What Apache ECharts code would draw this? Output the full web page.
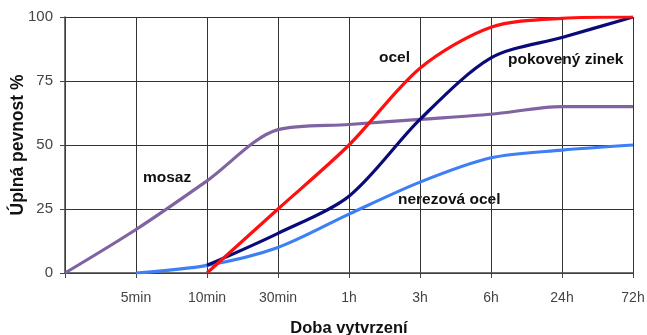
<!DOCTYPE html>
<html><head><meta charset="utf-8">
<script src="https://cdn.jsdelivr.net/npm/echarts@6/dist/echarts.min.js"></script>
<style>html,body{margin:0;padding:0;background:#fff}#c{width:647px;height:335px}</style>
</head><body><div id="c"></div>
<script>
const categories = ['', '5min', '10min', '30min', '1h', '3h', '6h', '24h', '72h'];
const yTicks = [0, 25, 50, 75, 100];
const mosaz = [0, 17, 36, 56, 58, 60, 62, 65, 65];
const ocel = [null, null, 0, 25, 50, 80, 96, 99.5, 100];
const zinek = [null, null, 3, 15.5, 30, 60, 84, 92, 100];
const nerez = [null, 0, 3, 10, 23, 35.5, 45, 48, 50];
const seriesNames = ['mosaz', 'ocel', 'pokovený zinek', 'nerezová ocel'];

const chart = echarts.init(document.getElementById('c'));
const mk = (name, data, color) => ({
  name, type: 'line', data, smooth: 0.3, showSymbol: false,
  lineStyle: { color, width: 3.2 }, itemStyle: { color }, connectNulls: false
});
const lbl = (text, x, y) => ({ type: 'text', left: x, top: y,
  style: { text, font: 'bold 15.5px "Liberation Sans", Arial, sans-serif', fill: '#111' } });
chart.setOption({
  animation: false,
  grid: { left: 65, right: 14, top: 17, bottom: 62, containLabel: false, outerBoundsMode: 'none' },
  xAxis: {
    type: 'category', data: categories, boundaryGap: false,
    axisLine: { lineStyle: { color: '#444', width: 1.5 } },
    axisTick: { show: true, length: 5, lineStyle: { color: '#444' } },
    axisLabel: { color: '#444', fontSize: 14, fontFamily: 'Liberation Sans', margin: 18 },
    splitLine: { show: true, lineStyle: { color: '#333', width: 1 } },
    name: 'Doba vytvrzení', nameLocation: 'middle', nameGap: 47, nameMoveOverlap: false,
    nameTextStyle: { fontWeight: 'bold', fontSize: 16.5, color: '#111', fontFamily: 'Liberation Sans' }
  },
  yAxis: {
    type: 'value', min: 0, max: 100, interval: 25,
    axisLine: { show: true, lineStyle: { color: '#444', width: 1.5 } },
    axisTick: { show: true, length: 5, lineStyle: { color: '#444' } },
    axisLabel: { color: '#444', fontSize: 15, fontFamily: 'Liberation Sans', margin: 12,
      formatter: v => yTicks.includes(v) ? String(v) : '' },
    splitLine: { lineStyle: { color: '#333', width: 1 } },
    name: 'Úplná pevnost %', nameLocation: 'middle', nameGap: 38, nameMoveOverlap: false,
    nameTextStyle: { fontWeight: 'bold', fontSize: 17.5, color: '#111', fontFamily: 'Liberation Sans' }
  },
  series: [
    mk(seriesNames[0], mosaz, '#8064a2'),
    mk(seriesNames[3], nerez, '#3f7ff5'),
    mk(seriesNames[2], zinek, '#0a0a78'),
    mk(seriesNames[1], ocel, '#ff1010')
  ],
  graphic: [
    lbl('ocel', 379, 50),
    lbl('pokovený zinek', 508, 52),
    lbl('mosaz', 143, 170),
    lbl('nerezová ocel', 398, 192)
  ]
});
</script></body></html>
